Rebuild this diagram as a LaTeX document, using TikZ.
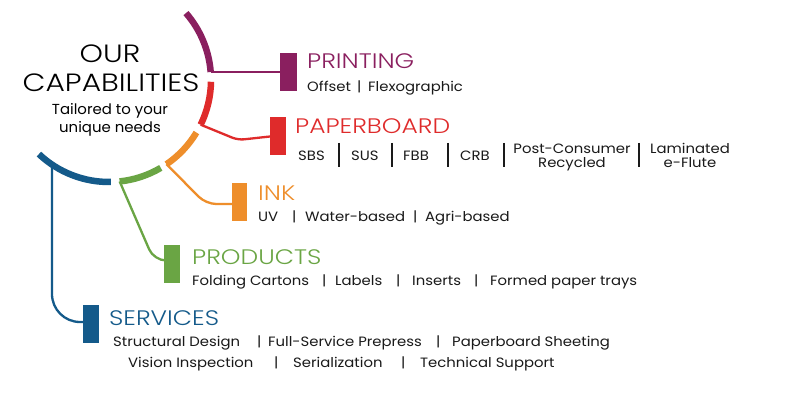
\documentclass[tikz,border=0pt]{standalone}
\usepackage{fontspec}
\setmainfont{Poppins}
\IfFontExistsTF{Poppins Light}
  {\newfontfamily\headfont{Poppins Light}[FakeStretch=1.19]}
  {\newfontfamily\headfont{Poppins}[FakeStretch=1.19]}
\newfontfamily\itemfont{Poppins}[FakeStretch=1.10]
\newfontfamily\tailfont{Poppins}[FakeStretch=1.03]
\usetikzlibrary{calc}
\definecolor{cpurple}{HTML}{8A1F5F}
\definecolor{cred}{HTML}{DF2B2B}
\definecolor{corange}{HTML}{EE8E2B}
\definecolor{cgreen}{HTML}{6AA544}
\definecolor{cblue}{HTML}{145A8A}
\definecolor{ink}{HTML}{1A1A1A}
\begin{document}
\begin{tikzpicture}[x=1pt,y=1pt,
  arcseg/.style={line width=6.5pt},
  conn/.style={line width=2.3pt},
  bar/.style={minimum width=16pt, minimum height=38pt, inner sep=0pt, outer sep=0pt},
  head/.style={anchor=base west, inner sep=0pt, font=\headfont\fontsize{21}{21}\selectfont},
  item/.style={anchor=base west, inner sep=0pt, font=\itemfont\fontsize{13.5}{13.5}\selectfont, text=ink},
  item2/.style={anchor=base, inner sep=0pt, font=\itemfont\fontsize{13.5}{13.5}\selectfont, text=ink},
  tsep/.style={line width=1.3pt, ink}
]
\useasboundingbox[fill=white] (0,0) rectangle (802,403);
\coordinate (c) at (109,323);
% arcs
\draw[arcseg,cpurple] ([shift={(c)}]41:102) arc[start angle=41,end angle=4.5,radius=102];
\draw[arcseg,cred] ([shift={(c)}]-1:102) arc[start angle=-1,end angle=-26,radius=102];
\draw[arcseg,corange] ([shift={(c)}]-31:102) arc[start angle=-31,end angle=-55.7,radius=102];
\draw[arcseg,cgreen] ([shift={(c)}]-59.5:102) arc[start angle=-59.5,end angle=-84,radius=102];
\draw[arcseg,cblue] ([shift={(c)}]-89:102) arc[start angle=-89,end angle=-133.4,radius=102];
\coordinate (pe) at ([shift={(c)}]4.5:102);
\coordinate (re) at ([shift={(c)}]-26:102);
\coordinate (oe) at ([shift={(c)}]-55.7:102);
\coordinate (ge) at ([shift={(c)}]-84:102);
\coordinate (be) at ([shift={(c)}]-124:102);
% bars
\node[bar,fill=cpurple,minimum width=17pt] (pbar) at (288.5,331) {};
\node[bar,fill=cred] (rbar) at (278,266.5) {};
\node[bar,fill=corange,minimum width=15pt] (obar) at (239.5,201) {};
\node[bar,fill=cgreen] (gbar) at (172,138.5) {};
\node[bar,fill=cblue] (bbar) at (91,79) {};
% connectors
\coordinate (rk) at (238,263);
\coordinate (ok) at (206,199);
\coordinate (gk) at (154,142.5);
\coordinate (bk) at (52,81);
\draw[conn,cpurple] (pe) -- (pe -| pbar.west);
\draw[conn,cred,rounded corners=6pt] (re) -- (rk) -- (rbar.west);
\draw[conn,corange,rounded corners=10pt] (oe) -- (ok) -- (ok -| obar.west);
\draw[conn,cgreen,rounded corners=12pt] (ge) -- (gk) -- (gk -| gbar.west);
\draw[conn,cblue,rounded corners=28pt] (be) -- (bk) -- (bk -| bbar.west);
% title
\node[anchor=base,inner sep=0pt,font=\headfont\fontsize{25}{25}\selectfont] (our) at (110,340) {OUR};
\node[anchor=base,inner sep=0pt,font=\headfont\fontsize{25}{25}\selectfont] (capab) at (111,311) {CAPABILITIES};
\node[anchor=base,inner sep=0pt,font=\tailfont\fontsize{14.5}{14.5}\selectfont] (tail1) at (110,288) {Tailored to your};
\node[anchor=base,inner sep=0pt,font=\tailfont\fontsize{14.5}{14.5}\selectfont] (tail2) at (110,270) {unique needs};
% printing
\node[head,text=cpurple] (hprint) at (307,334) {PRINTING};
\node[item] (p1) at (307,311) {Offset};
\node[item] (ps1) at (357,311) {|};
\node[item] (p2) at (368,311) {Flexographic};
% paperboard
\node[head,text=cred] (hpaper) at (295,269) {PAPERBOARD};
\node[item] (b1) at (298,242) {SBS};
\node[item] (b2) at (351,242) {SUS};
\node[item] (b3) at (403,242) {FBB};
\node[item] (b4) at (460,242) {CRB};
\node[item2] (b5a) at (572,249) {Post-Consumer};
\node[item2] (b5b) at (572,235) {Recycled};
\node[item2] (b6a) at (690,249) {Laminated};
\node[item2] (b6b) at (690,235) {e-Flute};
\foreach \sx/\nm in {339/s1,392/s2,448/s3,504/s4,639/s5}{
  \coordinate (\nm t) at (\sx,260);
  \coordinate (\nm b) at (\sx,236);
  \draw[tsep] (\nm t) -- (\nm b);
}
% ink
\node[head,text=corange] (hink) at (258,202) {INK};
\node[item] (i1) at (258,181) {UV};
\node[item] (is1) at (292,181) {|};
\node[item] (i2) at (305,181) {Water-based};
\node[item] (is2) at (413,181) {|};
\node[item] (i3) at (425,181) {Agri-based};
% products
\node[head,text=cgreen] (hprod) at (192,138) {PRODUCTS};
\node[item] (r1) at (192,117) {Folding Cartons};
\node[item] (rs1) at (322,117) {|};
\node[item] (r2) at (335,117) {Labels};
\node[item] (rs2) at (396,117) {|};
\node[item] (r3) at (412,117) {Inserts};
\node[item] (rs3) at (474,117) {|};
\node[item] (r4) at (490,117) {Formed paper trays};
% services
\node[head,text=cblue] (hserv) at (109,77) {SERVICES};
\node[item] (v1) at (113,56) {Structural Design};
\node[item] (vs1) at (257,56) {|};
\node[item] (v2) at (268,56) {Full-Service Prepress};
\node[item] (vs2) at (436,56) {|};
\node[item] (v3) at (452,56) {Paperboard Sheeting};
\node[item] (w1) at (128,35) {Vision Inspection};
\node[item] (ws1) at (274,35) {|};
\node[item] (w2) at (293,35) {Serialization};
\node[item] (ws2) at (401,35) {|};
\node[item] (w3) at (420,35) {Technical Support};
\end{tikzpicture}
\end{document}
